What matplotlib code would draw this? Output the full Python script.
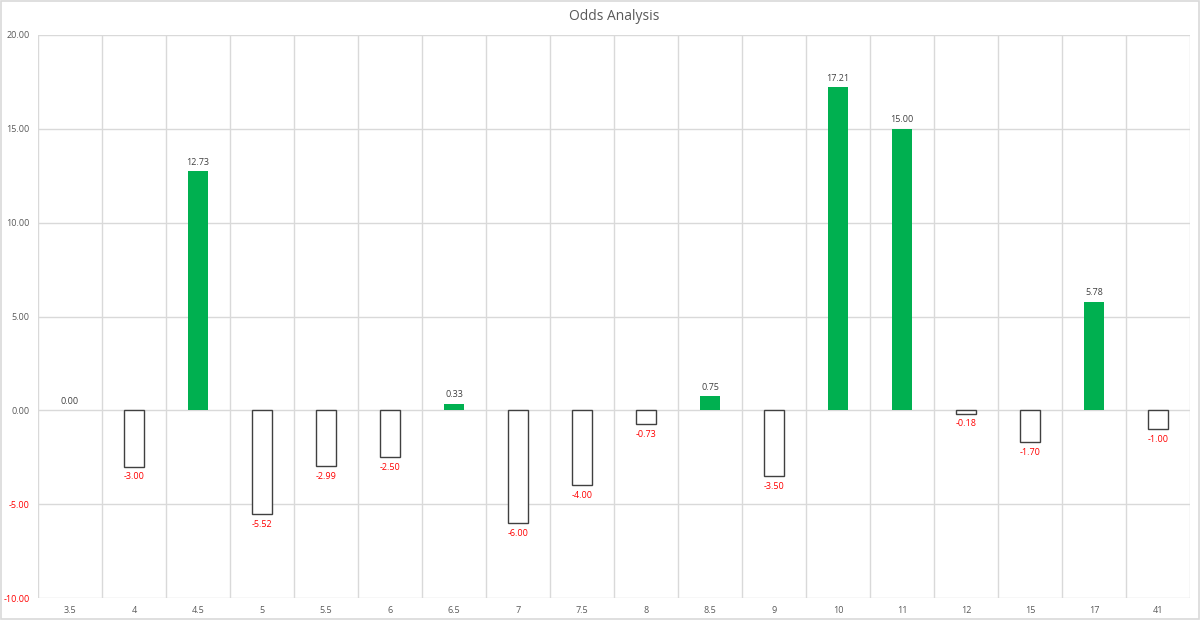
import matplotlib
matplotlib.use("Agg")
import matplotlib.pyplot as plt
from matplotlib.patches import Rectangle

categories = ["3.5", "4", "4.5", "5", "5.5", "6", "6.5", "7", "7.5", "8",
              "8.5", "9", "10", "11", "12", "15", "17", "41"]
values = [0.00, -3.00, 12.73, -5.52, -2.99, -2.50, 0.33, -6.00, -4.00, -0.73,
          0.75, -3.50, 17.21, 15.00, -0.18, -1.70, 5.78, -1.00]
y_ticks = [-10, -5, 0, 5, 10, 15, 20]

plt.rcParams['font.family'] = ['Open Sans', 'DejaVu Sans']

fig = plt.figure(figsize=(12, 6.2), dpi=100)
ax = fig.add_axes([38/1200, 22/620, 1152/1200, 563/620])

green = "#00B050"
grid_c = "#D9D9D9"
text_c = "#595959"
red = "#FF0000"

x = list(range(len(categories)))
for xi, v in zip(x, values):
    if v >= 0:
        ax.bar(xi, v, width=0.32, color=green, edgecolor="none", zorder=3)
        ax.text(xi, v + 0.25, f"{v:.2f}", ha="center", va="bottom",
                fontsize=6.5, color="#404040", zorder=4)
    else:
        ax.bar(xi, v, width=0.32, facecolor="white", edgecolor="#404040",
               linewidth=1.0, zorder=3)
        ax.text(xi, v - 0.3, f"{v:.2f}", ha="center", va="top",
                fontsize=6.5, color=red, zorder=4)

ax.set_xlim(-0.5, len(categories) - 0.5)
ax.set_ylim(-10, 20)
ax.set_yticks(y_ticks)
ax.set_yticklabels([f"{t:.2f}" for t in y_ticks], fontsize=6.5)
for lbl, t in zip(ax.get_yticklabels(), y_ticks):
    lbl.set_color(red if t < 0 else text_c)
ax.set_xticks(x)
ax.set_xticklabels(categories, fontsize=6.5, color=text_c)
ax.tick_params(length=0, pad=6)

for t in y_ticks:
    ax.axhline(t, color=grid_c, linewidth=1, zorder=1)
for b in range(len(categories) + 1):
    ax.axvline(b - 0.5, color=grid_c, linewidth=1, zorder=1)

for s in ax.spines.values():
    s.set_visible(False)

ax.set_title("Odds Analysis", fontsize=10, color=text_c, pad=11)

fig.patches.append(Rectangle((0.001, 0.002), 0.998, 0.996, transform=fig.transFigure,
                             fill=False, edgecolor=grid_c, linewidth=1.2))

fig.savefig("out.png", dpi=100)
